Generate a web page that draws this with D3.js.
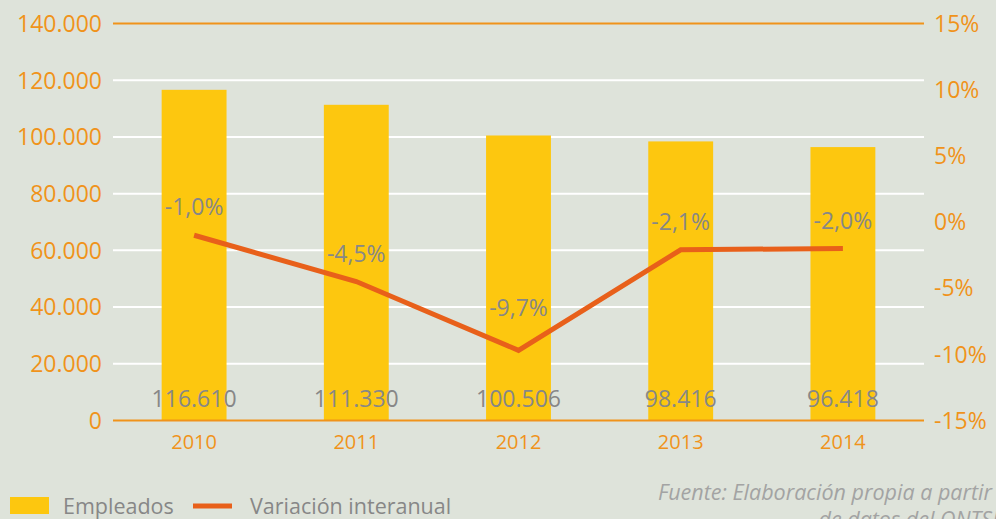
<!DOCTYPE html>
<html>
<head>
<meta charset="utf-8">
<script src="https://cdn.jsdelivr.net/npm/d3@7"></script>
<style>
  html, body { margin: 0; padding: 0; background: #dee3da; }
  svg { display: block; }
  svg text { font-family: "Open Sans", "Noto Sans", sans-serif; }
</style>
</head>
<body>
<div id="chart"></div>
<script>
const years = ['2010', '2011', '2012', '2013', '2014'];
const empleados = [116610, 111330, 100506, 98416, 96418];
const variacion = [-1.0, -4.5, -9.7, -2.1, -2.0];
const leftTicks = [0, 20000, 40000, 60000, 80000, 100000, 120000, 140000];
const rightTicks = [-15, -10, -5, 0, 5, 10, 15];

const width = 996;
const height = 519;
const margin = { top: 23.5, right: 72, bottom: 98.5, left: 113 };
const chartWidth = width - margin.left - margin.right;
const chartHeight = height - margin.top - margin.bottom;

const orange = '#f0931a';
const gray = '#878787';
const fontFamily = '"Open Sans", "Noto Sans", sans-serif';
const fmtThousands = d3.formatLocale({ decimal: ',', thousands: '.', grouping: [3] }).format(',d');
const fmtPct = v => v.toFixed(1).replace('.', ',') + '%';

const svg = d3.select('#chart').append('svg')
    .attr('width', width)
    .attr('height', height);

svg.append('rect')
    .attr('width', width)
    .attr('height', height)
    .attr('fill', '#dee3da');

const g = svg.append('g')
    .attr('transform', `translate(${margin.left},${margin.top})`);

const xScale = d3.scaleBand()
    .domain(years)
    .range([0, chartWidth])
    .paddingInner(0.6)
    .paddingOuter(0.3);

const yLeft = d3.scaleLinear().domain([0, 140000]).range([chartHeight, 0]);
const yRight = d3.scaleLinear().domain([-15, 15]).range([chartHeight, 0]);

// gridlines
g.selectAll('.grid')
    .data(leftTicks.filter(d => d > 0 && d < 140000))
    .enter()
    .append('line')
    .attr('x1', 0)
    .attr('x2', chartWidth)
    .attr('y1', d => yLeft(d))
    .attr('y2', d => yLeft(d))
    .attr('stroke', '#ffffff')
    .attr('stroke-width', 2);

// left axis labels
const leftAxis = g.append('g')
    .call(d3.axisLeft(yLeft).tickValues(leftTicks).tickFormat(fmtThousands).tickSize(0).tickPadding(11))
    .attr('font-family', fontFamily);
leftAxis.select('.domain').remove();
leftAxis.selectAll('text')
    .attr('fill', orange)
    .style('font-size', '23px')
    .attr('dy', '0.34em');

// right axis labels
const rightAxis = g.append('g')
    .attr('transform', `translate(${chartWidth},0)`)
    .call(d3.axisRight(yRight).tickValues(rightTicks).tickFormat(d => d + '%').tickSize(0).tickPadding(10))
    .attr('font-family', fontFamily);
rightAxis.select('.domain').remove();
rightAxis.selectAll('text')
    .attr('fill', orange)
    .style('font-size', '23px')
    .attr('dy', '0.34em');

// bars
g.selectAll('.bar')
    .data(empleados)
    .enter()
    .append('rect')
    .attr('x', (d, i) => xScale(years[i]))
    .attr('y', d => yLeft(d))
    .attr('width', xScale.bandwidth())
    .attr('height', d => chartHeight - yLeft(d))
    .attr('fill', '#fdc70f');

// top and bottom orange lines
[140000, 0].forEach(v => {
    g.append('line')
        .attr('x1', 0)
        .attr('x2', chartWidth)
        .attr('y1', yLeft(v))
        .attr('y2', yLeft(v))
        .attr('stroke', orange)
        .attr('stroke-width', 2);
});

// bar value labels
g.selectAll('.barlabel')
    .data(empleados)
    .enter()
    .append('text')
    .attr('x', (d, i) => xScale(years[i]) + xScale.bandwidth() / 2)
    .attr('y', chartHeight - 22)
    .attr('dy', '0.35em')
    .attr('text-anchor', 'middle')
    .attr('fill', gray)
    .style('font-size', '23px')
    .text(d => fmtThousands(d));

// x axis labels
const xAxis = g.append('g')
    .attr('transform', `translate(0,${chartHeight})`)
    .call(d3.axisBottom(xScale).tickSize(0).tickPadding(14))
    .attr('font-family', fontFamily);
xAxis.select('.domain').remove();
xAxis.selectAll('text')
    .attr('fill', orange)
    .style('font-size', '20px');

// line
const line = d3.line()
    .x((d, i) => xScale(years[i]) + xScale.bandwidth() / 2)
    .y(d => yRight(d));

g.append('path')
    .datum(variacion)
    .attr('fill', 'none')
    .attr('stroke', '#e8601a')
    .attr('stroke-width', 5)
    .attr('d', line);

// labels sit above the point; the deepest one sits a bit higher, as in the original
g.selectAll('.linelabel')
    .data(variacion)
    .enter()
    .append('text')
    .attr('x', (d, i) => xScale(years[i]) + xScale.bandwidth() / 2)
    .attr('y', d => yRight(d) - (d === d3.min(variacion) ? 42 : 28))
    .attr('dy', '0.35em')
    .attr('text-anchor', 'middle')
    .attr('fill', gray)
    .style('font-size', '23px')
    .text(d => fmtPct(d));

// legend
const legend = svg.append('g');
legend.append('rect')
    .attr('x', 10).attr('y', 497)
    .attr('width', 39).attr('height', 17)
    .attr('fill', '#fdc70f');
legend.append('text')
    .attr('x', 63).attr('y', 506)
    .attr('dy', '0.35em')
    .attr('fill', gray)
    .style('font-size', '21.5px')
    .text('Empleados');
legend.append('line')
    .attr('x1', 193).attr('x2', 232)
    .attr('y1', 506).attr('y2', 506)
    .attr('stroke', '#e8601a')
    .attr('stroke-width', 5);
legend.append('text')
    .attr('x', 250).attr('y', 506)
    .attr('dy', '0.35em')
    .attr('fill', gray)
    .style('font-size', '21.5px')
    .text('Variación interanual');

// source
const source = svg.append('text')
    .attr('text-anchor', 'end')
    .attr('fill', '#a3a3a3')
    .style('font-size', '21.5px')
    .style('font-style', 'italic');
source.append('tspan').attr('x', 992).attr('y', 500).text('Fuente: Elaboración propia a partir');
source.append('tspan').attr('x', 998).attr('y', 527).text('de datos del ONTSI');
</script>
</body>
</html>
